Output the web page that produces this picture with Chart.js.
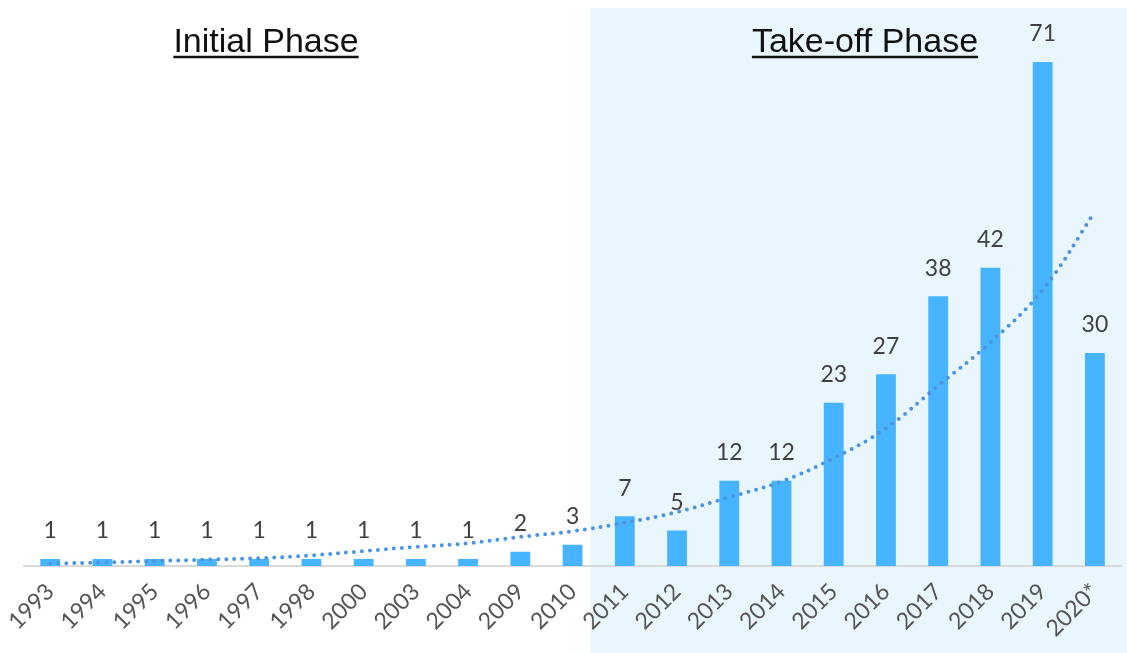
<!DOCTYPE html>
<html>
<head>
<meta charset="utf-8">
<title>Publications per year</title>
<script src="https://cdn.jsdelivr.net/npm/chart.js@4/dist/chart.umd.min.js"></script>
<style>
  html, body { margin: 0; padding: 0; background: #fff; }
  #wrap { width: 1127px; height: 653px; }
</style>
</head>
<body>
<div id="wrap"><canvas id="myChart" width="1127" height="653"></canvas></div>
<script>
const years = ['1993', '1994', '1995', '1996', '1997', '1998', '2000', '2003', '2004', '2009',
  '2010', '2011', '2012', '2013', '2014', '2015', '2016', '2017', '2018', '2019', '2020*']
const counts = [1, 1, 1, 1, 1, 1, 1, 1, 1, 2, 3, 7, 5, 12, 12, 23, 27, 38, 42, 71, 30]
// exponential trend, read per year
const trend = [0.35, 0.49, 0.7, 0.9, 1.1, 1.5, 2.1, 2.7, 3.2, 4.1, 4.9, 6.1, 7.6, 9.7, 11.9,
  15.2, 19.4, 25.4, 31.5, 38.9, 49.9]
const phases = ['Initial Phase', 'Take-off Phase']
const takeoffStart = '2011'

// light band behind the take-off years
const phaseBand = {
  id: 'phaseBand',
  beforeDraw (chart) {
    const { ctx, scales: { x } } = chart
    const i = years.indexOf(takeoffStart)
    const left = (x.getPixelForValue(i - 1) + x.getPixelForValue(i)) / 2 - 8
    ctx.save()
    ctx.fillStyle = '#ffffff'
    ctx.fillRect(0, 0, chart.width, chart.height)
    ctx.fillStyle = '#eaf6fd'
    ctx.fillRect(left, 8, chart.width - left, chart.height - 8)
    ctx.restore()
  },
  afterDraw (chart) {
    const { ctx } = chart
    const centers = [266, 865]
    ctx.save()
    ctx.font = '34px "Liberation Sans", Arial, sans-serif'
    ctx.fillStyle = '#111'
    ctx.strokeStyle = '#111'
    ctx.lineWidth = 2.5
    ctx.textAlign = 'center'
    ctx.textBaseline = 'alphabetic'
    phases.forEach((t, k) => {
      const w = ctx.measureText(t).width
      ctx.fillText(t, centers[k], 52)
      ctx.beginPath()
      ctx.moveTo(centers[k] - w / 2, 57)
      ctx.lineTo(centers[k] + w / 2, 57)
      ctx.stroke()
    })
    ctx.restore()
  }
}

// value above each bar
const barValues = {
  id: 'barValues',
  afterDatasetsDraw (chart) {
    const { ctx } = chart
    const meta = chart.getDatasetMeta(0)
    ctx.save()
    ctx.font = '23px Lato, sans-serif'
    ctx.fillStyle = '#404040'
    ctx.textAlign = 'center'
    ctx.textBaseline = 'middle'
    meta.data.forEach((bar, i) => {
      ctx.fillText(String(counts[i]), bar.x, bar.y - 28)
    })
    ctx.restore()
  }
}

const ctx = document.getElementById('myChart')
const chart = new Chart(ctx, {
  data: {
    labels: years,
    datasets: [
      {
        type: 'bar',
        data: counts,
        backgroundColor: '#47b4ff',
        barPercentage: 0.76,
        categoryPercentage: 0.5,
        order: 1
      },
      {
        type: 'line',
        data: trend,
        borderColor: '#4f95dc',
        borderWidth: 4,
        borderDash: [0, 8],
        borderCapStyle: 'round',
        pointRadius: 0,
        tension: 0.4,
        fill: false,
        order: 0
      }
    ]
  },
  options: {
    responsive: false,
    animation: false,
    devicePixelRatio: 1,
    layout: { padding: { top: 8, left: 22, right: 6, bottom: 0 } },
    plugins: { legend: { display: false }, tooltip: { enabled: false } },
    scales: {
      y: { display: false, min: 0, max: 78.6 },
      x: {
        grid: { display: false, drawTicks: false },
        border: { color: '#d9d9d9', width: 2 },
        ticks: {
          color: '#555555',
          font: { family: 'Lato', size: 23 },
          minRotation: 45,
          maxRotation: 45,
          padding: 12,
          autoSkip: false
        },
        afterFit (scale) { scale.height = 87 }
      }
    }
  },
  plugins: [phaseBand, barValues]
})
</script>
</body>
</html>
